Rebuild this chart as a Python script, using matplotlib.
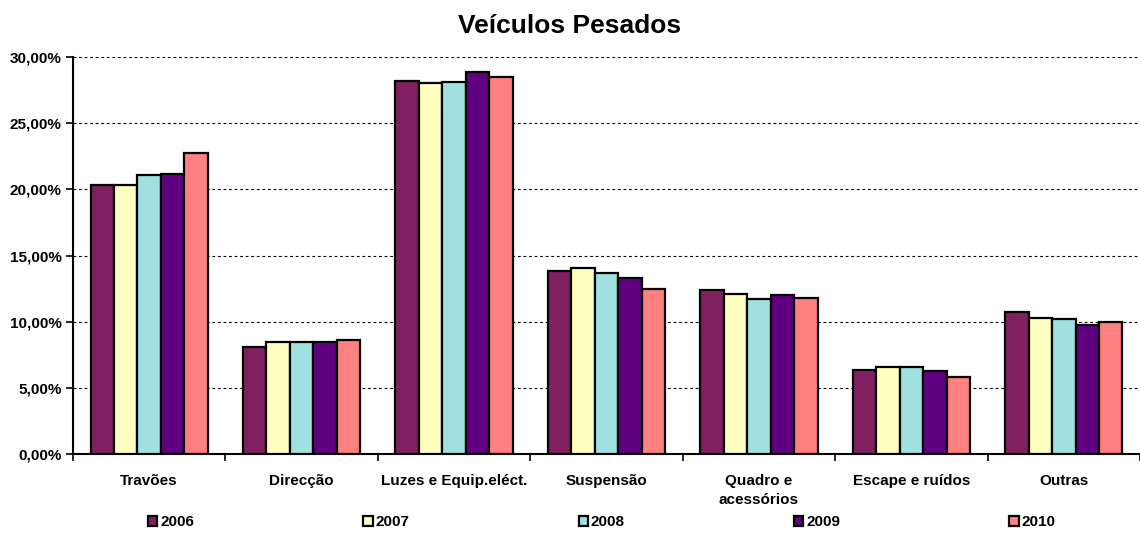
import numpy as np
import matplotlib
matplotlib.use("Agg")
import matplotlib.pyplot as plt
from matplotlib.ticker import FuncFormatter, FixedLocator

plt.rcParams['font.family'] = ['Liberation Sans', 'DejaVu Sans']

# dados
categorias = ['Travões', 'Direcção', 'Luzes e Equip.eléct.', 'Suspensão',
              'Quadro e\nacessórios', 'Escape e ruídos', 'Outras']
anos = ['2006', '2007', '2008', '2009', '2010']
v2006 = [20.33, 8.10, 28.20, 13.85, 12.40, 6.37, 10.70]
v2007 = [20.32, 8.50, 28.07, 14.05, 12.07, 6.60, 10.30]
v2008 = [21.10, 8.45, 28.15, 13.68, 11.70, 6.60, 10.20]
v2009 = [21.20, 8.45, 28.90, 13.33, 12.04, 6.27, 9.75]
v2010 = [22.72, 8.65, 28.50, 12.47, 11.77, 5.80, 10.00]
series = [v2006, v2007, v2008, v2009, v2010]
cores = ['#802060', '#FFFFC0', '#A0E0E0', '#600080', '#FF8080']

fig = plt.figure(figsize=(11.4, 5.33), dpi=100)
ax = fig.add_axes([0.064, 0.148, 0.936, 0.745])

x = np.arange(len(categorias))
w = 1 / 6.5
for j, (vals, cor) in enumerate(zip(series, cores)):
    ax.bar(x + (j - 2) * w, np.array(vals) / 100, width=w, color=cor,
           edgecolor='black', linewidth=1.6, label=anos[j], zorder=3)

ax.set_xlim(-0.5, len(categorias) - 0.5)
ax.set_ylim(0, 0.30)
ax.set_yticks(np.arange(0, 0.301, 0.05))
ax.yaxis.set_major_formatter(FuncFormatter(lambda v, p: f'{v*100:.2f}%'.replace('.', ',')))
ax.yaxis.grid(True, linestyle=(0, (2.5, 2.5)), color='black', linewidth=0.8, zorder=0)

ax.set_xticks(x)
ax.set_xticklabels(categorias, fontweight='bold', fontsize=11, linespacing=1.45, va='top')
ax.tick_params(axis='x', which='major', length=0, pad=14)
ax.xaxis.set_minor_locator(FixedLocator(np.arange(-0.5, len(categorias), 1)))
ax.tick_params(axis='x', which='minor', length=5, width=1.2, direction='out')
ax.tick_params(axis='y', length=5, width=1.2, direction='out', labelsize=11, pad=3)
for t in ax.get_yticklabels():
    t.set_fontweight('bold')

for s in ['top', 'right']:
    ax.spines[s].set_visible(False)
for s in ['left', 'bottom']:
    ax.spines[s].set_linewidth(1.5)

fig.text(0.5, 0.952, 'Veículos Pesados', ha='center', va='center',
         fontsize=19, fontweight='bold')

fig.legend(loc='lower left', bbox_to_anchor=(0.118, -0.019, 0.82, 0.06), mode='expand',
           ncol=5, frameon=False, handlelength=0.6, handleheight=0.6,
           handletextpad=0.2, prop={'weight': 'bold', 'size': 11})

fig.savefig('out.png', dpi=100)
